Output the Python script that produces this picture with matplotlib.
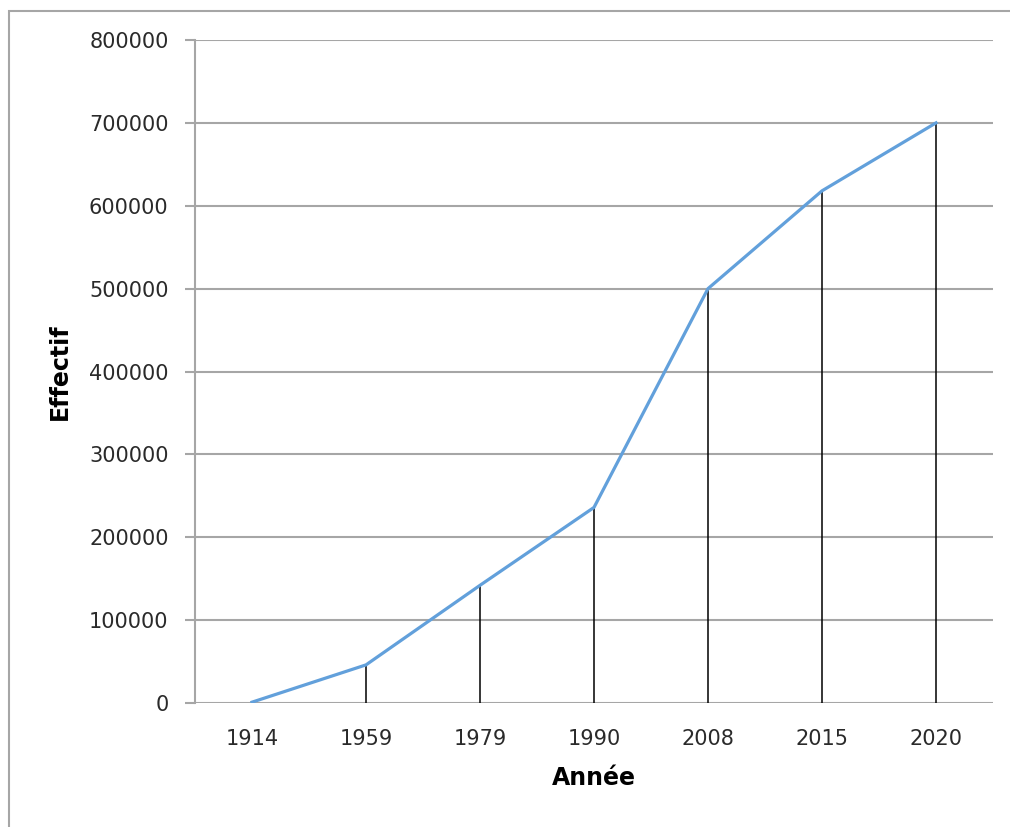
import matplotlib.pyplot as plt
from matplotlib.patches import Rectangle

annees = ["1914", "1959", "1979", "1990", "2008", "2015", "2020"]
effectif = [1000, 46000, 142000, 236000, 500000, 618000, 700000]
yticks = [0, 100000, 200000, 300000, 400000, 500000, 600000, 700000, 800000]

plt.rcParams['font.family'] = ['DejaVu Sans']

fig = plt.figure(figsize=(10.10, 8.27), dpi=100)
fig.set_facecolor("white")

# cadre gris du graphique (dépasse à droite et en bas)
fig.patches.append(Rectangle((9 / 1010, -0.05), 1.1, 1 - 11 / 827 + 0.05,
                             transform=fig.transFigure, fill=False,
                             edgecolor="#a6a6a6", linewidth=1.5))

ax = fig.add_axes([195 / 1010, 1 - 703 / 827, 798 / 1010, 663 / 827])
x = list(range(len(annees)))

ax.vlines(x, 0, effectif, color="black", linewidth=1.1, zorder=3)
ax.plot(x, effectif, color="#62a0db", linewidth=2.3, zorder=4)

ax.set_xlim(-0.5, len(annees) - 0.5)
ax.set_ylim(0, 800000)
ax.set_yticks(yticks)
ax.set_yticklabels([str(v) for v in yticks])
ax.set_xticks(x)
ax.set_xticklabels(annees)

ax.grid(axis="y", color="#a6a6a6", linewidth=1.5, zorder=0)
ax.set_axisbelow(True)
for s in ["top", "right", "bottom"]:
    ax.spines[s].set_visible(False)
ax.spines["left"].set_color("#a6a6a6")
ax.spines["left"].set_linewidth(1.5)

ax.tick_params(axis="y", length=7, width=1.5, color="#a6a6a6", pad=12,
               labelsize=15, labelcolor="#2a2a2a")
ax.tick_params(axis="x", length=0, pad=19, labelsize=15, labelcolor="#2a2a2a")

ax.set_xlabel("Année", fontsize=17, fontweight="bold", labelpad=12)
ax.set_ylabel("Effectif", fontsize=17, fontweight="bold", labelpad=12)

plt.savefig("out.png", dpi=100)
